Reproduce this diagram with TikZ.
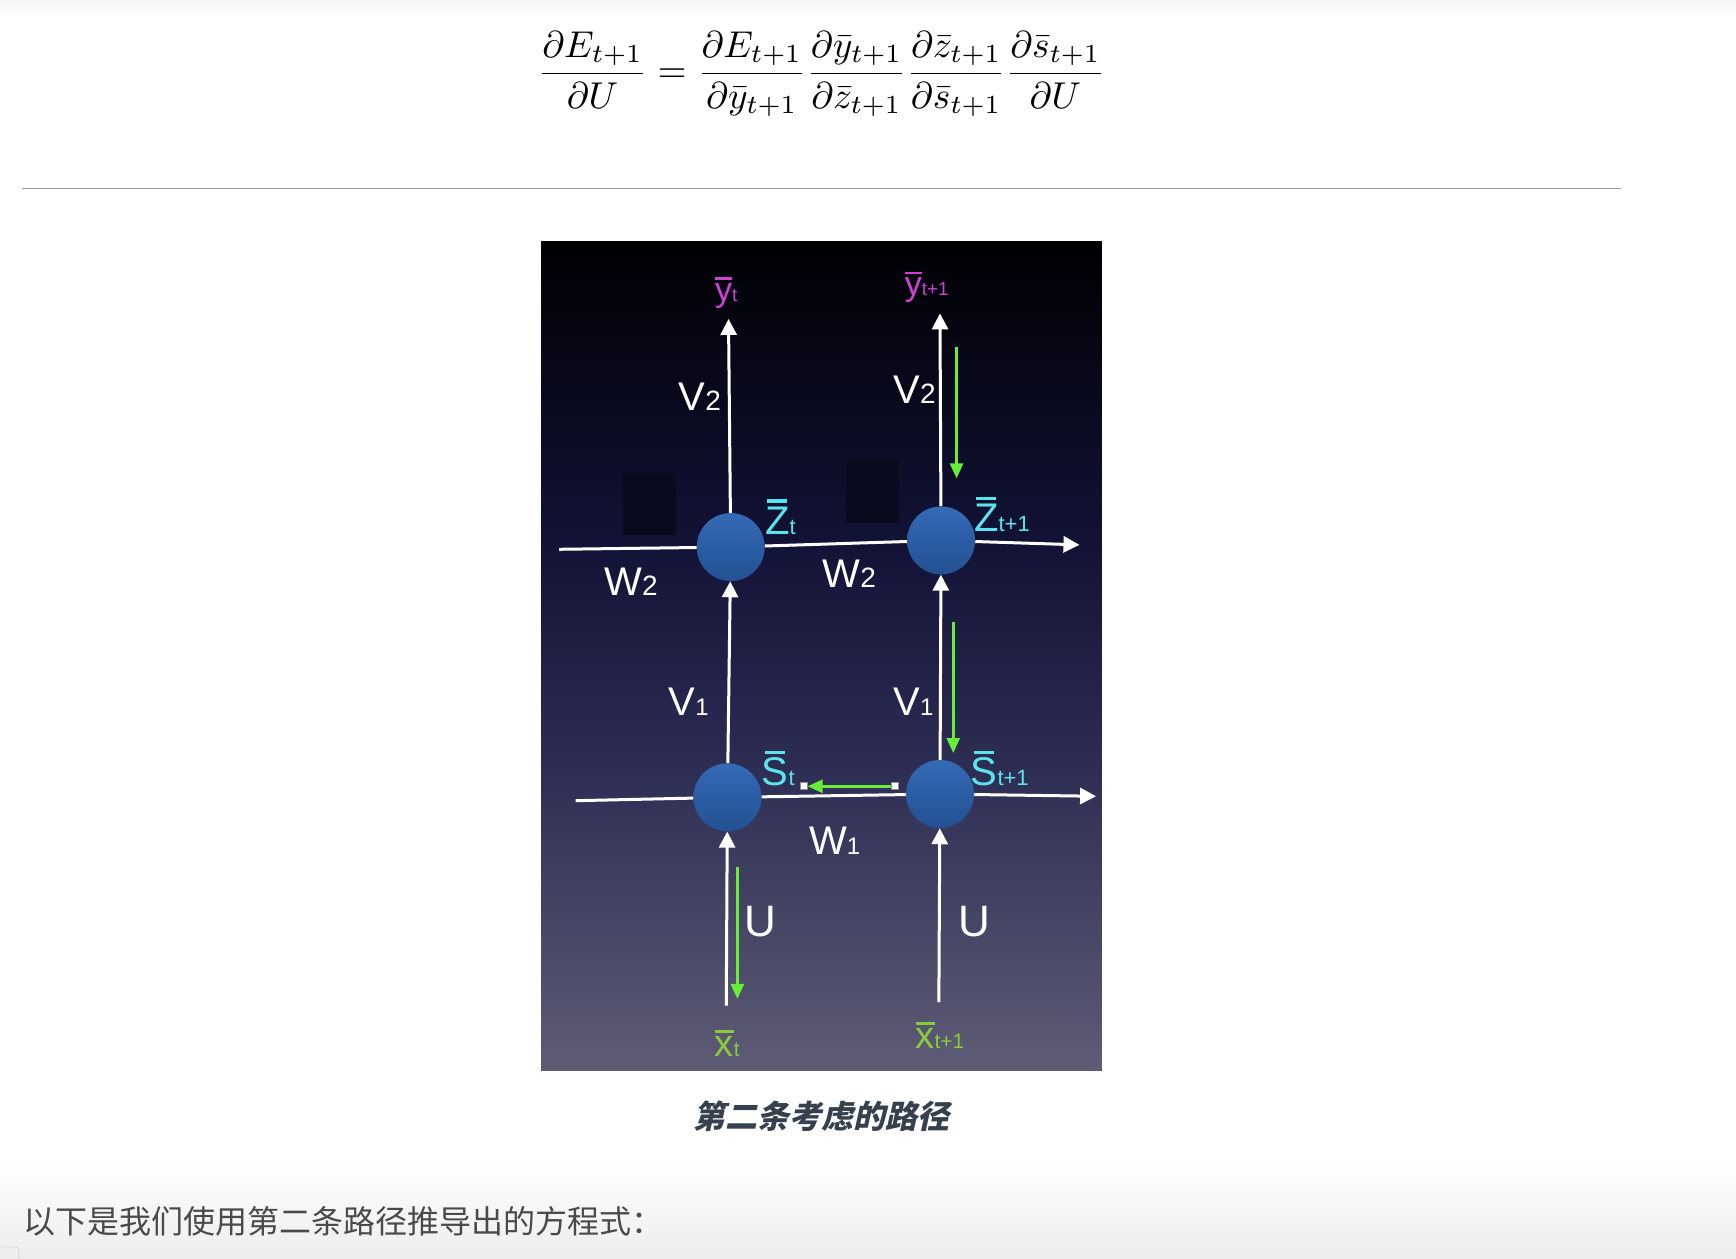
\documentclass[tikz,border=0pt]{standalone}
\usepackage{amsmath, graphicx, fontspec}
\usetikzlibrary{arrows.meta}
\setmainfont{Liberation Sans}
\newfontfamily\cjk{Noto Sans CJK SC}
\newfontfamily\cjkcap{Noto Sans CJK SC}[UprightFeatures={FakeSlant=0.22}, BoldFeatures={FakeSlant=0.22}]

\definecolor{ycol}{HTML}{D040D6}
\definecolor{zcol}{HTML}{5CE4EE}
\definecolor{xcol}{HTML}{8ACB3C}
\definecolor{gcol}{HTML}{66EE3A}
\definecolor{nblue}{HTML}{2A62B2}
\definecolor{ptop}{HTML}{000003}
\definecolor{pdark}{HTML}{121236}
\definecolor{pmid}{HTML}{2E2E55}
\definecolor{pbot}{HTML}{5E5C75}
\definecolor{capcol}{HTML}{37414D}
\definecolor{txtcol}{HTML}{4A4A4A}
\pgfdeclareverticalshading{panel}{100bp}{color(0bp)=(pbot); color(25bp)=(pbot); color(43bp)=(pmid); color(57bp)=(pdark); color(75bp)=(ptop); color(100bp)=(ptop)}

% letter with a bar over it, smaller index
\newcommand{\barsym}[1]{\ooalign{#1\cr\hidewidth\rule[\dimexpr\fontcharht\font`#1+0.1em\relax]{0.5em}{0.08em}\hidewidth\cr}}
\newcommand{\lsub}[2][0.55]{\scalebox{#1}{#2}}

\begin{document}
\begin{tikzpicture}[x=1.1071pt, y=-1.1074pt,
    neuron/.style={circle, minimum size=68pt, inner sep=0pt, top color=nblue!95!white, bottom color=nblue!82!black},
    wire/.style={white, line width=3pt},
    flow/.style={wire, -{Triangle[length=16pt,width=16pt]}},
    grad/.style={gcol, line width=2.6pt, -{Triangle[length=15pt,width=13pt]}},
    wlab/.style={white, font=\fontsize{40}{40}\selectfont},
    ylab/.style={ycol, font=\fontsize{34}{34}\selectfont},
    zlab/.style={zcol, font=\fontsize{40}{40}\selectfont},
    xlab/.style={xcol, font=\fontsize{38}{38}\selectfont},
    handle/.style={fill=white, draw=black!45, line width=0.6pt, minimum size=7pt, inner sep=0pt}]
  \useasboundingbox (0,0) rectangle (1568,1136);
  \shade[top color=black!4, bottom color=white] (0,0) rectangle (1568,14);
  \shade[top color=white, bottom color=black!7] (0,1050) rectangle (1568,1136);
  \draw[black!25, rounded corners=3pt] (-5,1126) rectangle (17,1145);

  % formula and rule
  \node (eq) at (742,67) {\resizebox{567pt}{!}{$\displaystyle
    \frac{\partial E_{t+1}}{\partial U} =
    \frac{\partial E_{t+1}}{\partial \bar{y}_{t+1}}
    \frac{\partial \bar{y}_{t+1}}{\partial \bar{z}_{t+1}}
    \frac{\partial \bar{z}_{t+1}}{\partial \bar{s}_{t+1}}
    \frac{\partial \bar{s}_{t+1}}{\partial U}$}};
  \coordinate (rl) at (20,170);
  \coordinate (rr) at (1464,170);
  \draw[black!40, line width=1.4pt] (rl) -- (rr);

  % panel
  \fill[shading=panel] (489,218) rectangle (995,967);
  \fill[pdark!55!ptop] (563,427) rectangle (611,483);
  \fill[pdark!55!ptop] (764,415) rectangle (812,472);

  % units
  \node[neuron] (zt)  at (660,494) {};
  \node[neuron] (zt1) at (850,488) {};
  \node[neuron] (st)  at (657,720) {};
  \node[neuron] (st1) at (849,717) {};

  % free ends
  \coordinate (ytend)  at (658,288);
  \coordinate (yt1end) at (849,283);
  \coordinate (zin)    at (505,496);
  \coordinate (zout)   at (975,492);
  \coordinate (sin)    at (520,723);
  \coordinate (sout)   at (990,719);
  \coordinate (xtend)  at (656,908);
  \coordinate (xt1end) at (848,905);

  % connections
  \draw[flow] (zt) -- (ytend);
  \draw[flow] (zt1) -- (yt1end);
  \draw[wire] (zin) -- (zt) -- (zt1);
  \draw[flow] (zt1) -- (zout);
  \draw[wire] (sin) -- (st) -- (st1);
  \draw[flow] (st1) -- (sout);
  \draw[flow] (st) -- (zt);
  \draw[flow] (st1) -- (zt1);
  \draw[flow] (xtend) -- (st);
  \draw[flow] (xt1end) -- (st1);

  % path of the gradient
  \coordinate (g1a) at (864,313);
  \coordinate (g1b) at (864,432);
  \coordinate (g2a) at (861,562);
  \coordinate (g2b) at (861,680);
  \coordinate (g4a) at (666,783);
  \coordinate (g4b) at (666,902);
  \draw[grad] (g1a) -- (g1b);
  \draw[grad] (g2a) -- (g2b);
  \node[handle] (h1) at (808,710) {};
  \node[handle] (h2) at (726,710) {};
  \draw[grad] (h1) -- (h2);
  \draw[grad] (g4a) -- (g4b);

  % labels
  \node[ylab] (yt)  at (656,264) {\barsym{y}\lsub{t}};
  \node[ylab] (yt1) at (837,259) {\barsym{y}\lsub{t+1}};
  \node[zlab] (ztl)  at (705,470) {\barsym{Z}\lsub{t}};
  \node[zlab] (zt1l) at (905,468) {\barsym{Z}\lsub{t+1}};
  \node[zlab] (stl)  at (703,697) {\barsym{S}\lsub{t}};
  \node[zlab] (st1l) at (903,697) {\barsym{S}\lsub{t+1}};
  \node[xlab] (xt)  at (657,945) {\barsym{x}\lsub{t}};
  \node[xlab] (xt1) at (849,938) {\barsym{x}\lsub{t+1}};
  \node[wlab] (v2a) at (632,358) {V\lsub[0.7]{2}};
  \node[wlab] (v2b) at (826,352) {V\lsub[0.7]{2}};
  \node[wlab] (w2a) at (570,525) {W\lsub[0.7]{2}};
  \node[wlab] (w2b) at (767,518) {W\lsub[0.7]{2}};
  \node[wlab] (v1a) at (622,634) {V\lsub[0.6]{1}};
  \node[wlab] (v1b) at (825,634) {V\lsub[0.6]{1}};
  \node[wlab] (w1)  at (754,759) {W\lsub[0.6]{1}};
  \node[wlab, font=\fontsize{44}{44}\selectfont] (ua) at (687,832) {U};
  \node[wlab, font=\fontsize{44}{44}\selectfont] (ub) at (880,832) {U};

  % caption and text
  \node[capcol, font=\fontsize{32}{32}\selectfont] (cap) at (742,1008) {\cjkcap\bfseries 第二条考虑的路径};
  \node[txtcol, anchor=west, font=\fontsize{32}{32}\selectfont] (txt) at (18,1103) {\cjk 以下是我们使用第二条路径推导出的方程式：};
\end{tikzpicture}
\end{document}
